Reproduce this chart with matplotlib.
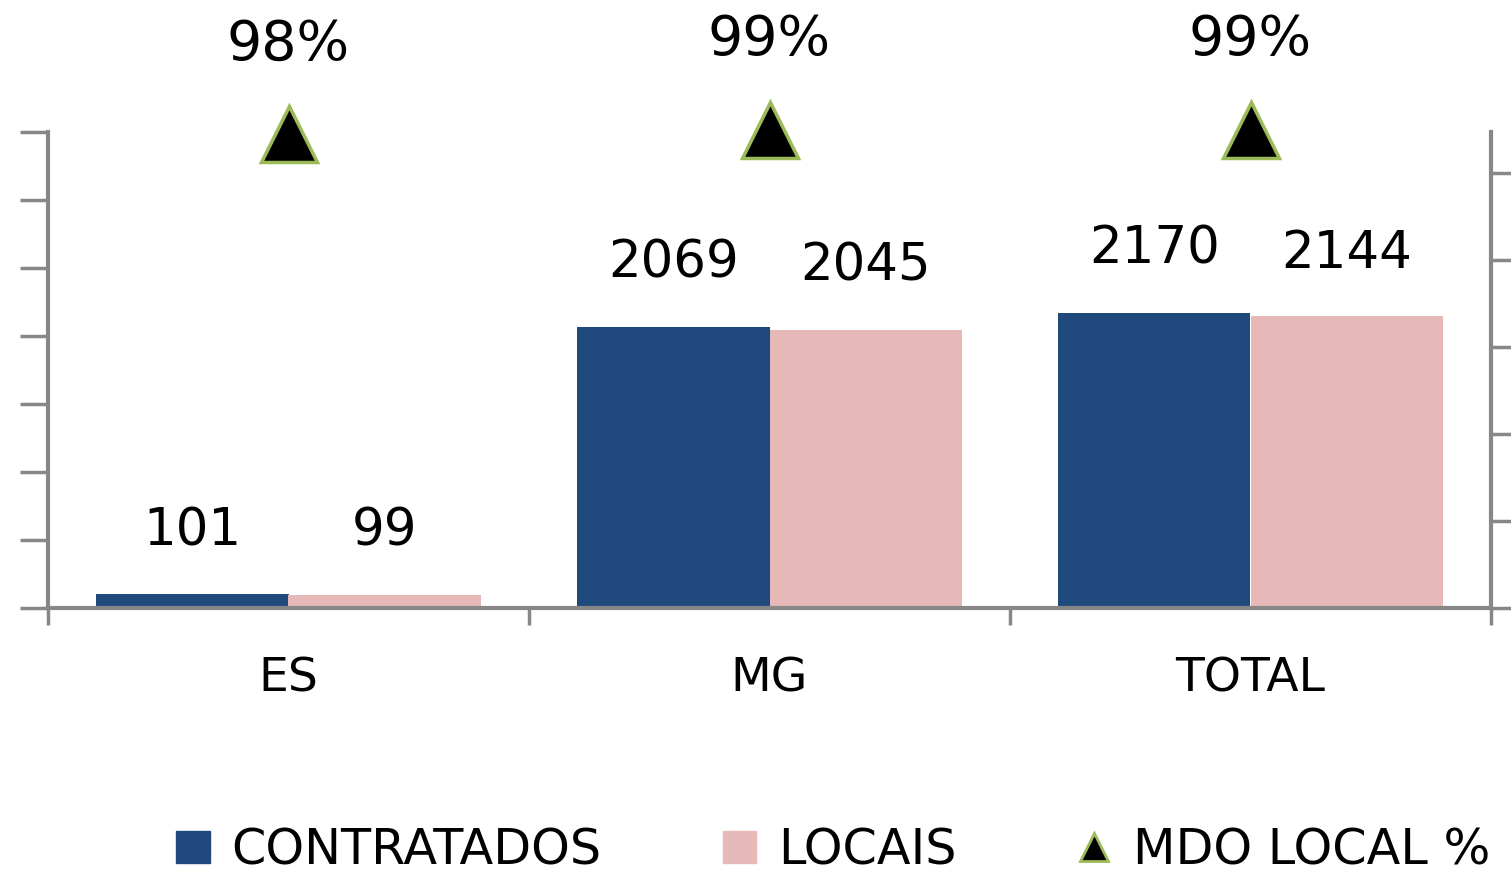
import numpy as np
import matplotlib
matplotlib.use("Agg")
import matplotlib.pyplot as plt
from matplotlib.lines import Line2D
from matplotlib.patches import Patch

categories = ["ES", "MG", "TOTAL"]
contratados = [101, 2069, 2170]
locais = [99, 2045, 2144]
mdo_local = [0.98, 0.99, 0.99]
mdo_labels = ["98%", "99%", "99%"]

blue = "#1F497D"
pink = "#E6B9B8"
green = "#9BBB59"
grey = "#878787"

fig = plt.figure(figsize=(15.11, 8.79), dpi=100)
ax = fig.add_axes([48/1511, 1-609/879, (1491-48)/1511, (609-133)/879])

x = np.arange(len(categories)) + 0.5
w = 0.4
b1 = ax.bar(x - w/2, contratados, w, color=blue, zorder=2)
b2 = ax.bar(x + w/2, locais, w, color=pink, zorder=2)

# rótulos acima das barras
for bars, vals in [(b1, contratados), (b2, locais)]:
    for r, v in zip(bars, vals):
        ax.annotate(str(v), (r.get_x() + r.get_width()/2, r.get_height()),
                    xytext=(0, 46), textcoords="offset points",
                    ha="center", va="center", fontsize=37, color="black")

ax.set_xlim(0, 3)
ax.set_ylim(0, 3500)
ax.set_yticks(np.arange(0, 3501, 500))
ax.set_yticklabels([])
ax.set_xticks(x)
ax.set_xticklabels(categories, fontsize=34, color="black")
ax.set_xticks([0, 1, 2, 3], minor=True)
ax.tick_params(axis="x", which="major", length=0, pad=34)
ax.tick_params(axis="x", which="minor", length=12, width=2.5, color=grey, direction="out")
ax.tick_params(axis="y", length=20, width=2.5, color=grey, direction="out")
for s in ["top", "right"]:
    ax.spines[s].set_visible(False)
for s in ["left", "bottom"]:
    ax.spines[s].set_color(grey)
    ax.spines[s].set_linewidth(3)

ax2 = ax.twinx()
ax2.plot(x, mdo_local, linestyle="none", marker="^", ms=40, mfc="black",
         mec=green, mew=2.5, clip_on=False, zorder=5)
for xi, v, lab in zip(x, mdo_local, mdo_labels):
    ax2.annotate(lab, (xi, v), xytext=(0, 65.5), textcoords="offset points",
                 ha="center", va="center", fontsize=40, color="black",
                 annotation_clip=False)
ax2.set_ylim(0, 0.985)
ax2.set_yticks(np.arange(0, 0.985, 0.18))
ax2.set_yticklabels([])
ax2.tick_params(axis="y", length=20, width=2.5, color=grey, direction="out")
for s in ["top", "left", "bottom"]:
    ax2.spines[s].set_visible(False)
ax2.spines["right"].set_color(grey)
ax2.spines["right"].set_linewidth(3)

handles = [Patch(color=blue), Patch(color=pink),
           Line2D([], [], linestyle="none", marker="^", ms=20, mfc="black", mec=green, mew=2)]
fig.legend(handles, ["CONTRATADOS", "LOCAIS", "MDO LOCAL %"], ncol=3,
           loc="center left", bbox_to_anchor=(176/1511, 1-851/879),
           frameon=False, fontsize=35.5, handlelength=0.68, handleheight=0.62,
           handletextpad=0.45, columnspacing=2.45, borderpad=0, borderaxespad=0)

fig.savefig("out.png", dpi=100)
